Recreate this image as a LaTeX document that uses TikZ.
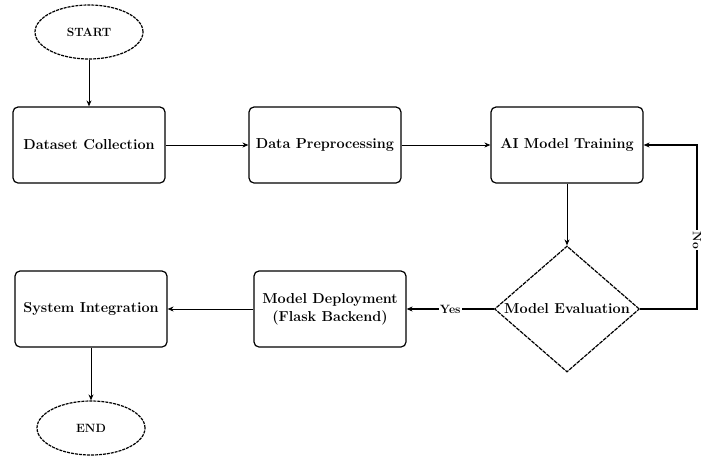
\documentclass[tikz,border=0pt]{standalone}
\usetikzlibrary{shapes.geometric,arrows.meta}
\begin{document}
\begin{tikzpicture}[x=1pt,y=-1pt,
  proc/.style={draw, line width=1.2pt, rounded corners=5pt, minimum width=152pt, minimum height=76pt, inner sep=2pt, font=\bfseries\Large, align=center},
  term/.style={draw, ellipse, line width=1.2pt, dashed, dash pattern=on 3pt off 1pt, minimum width=108pt, minimum height=54pt, font=\bfseries\large},
  dec/.style={draw, diamond, line width=1.2pt, dashed, dash pattern=on 4pt off 1pt, minimum width=145pt, minimum height=126pt, inner sep=0pt},
  dectext/.style={font=\bfseries\Large, inner sep=0pt},
  conn/.style={draw, line width=0.9pt, -{Stealth[length=6pt,width=5pt]}},
  lbl/.style={font=\bfseries\large, fill=white, inner sep=1pt}]
\useasboundingbox (0,0) rectangle (704,456);
\node[term] (start) at (89,32) {START};
\node[proc] (data) at (89,145) {Dataset Collection};
\node[proc] (prep) at (325,145) {Data Preprocessing};
\node[proc] (train) at (567,145) {AI Model Training};
\node[dec] (eval) at (567,309) {};
\node[dectext] (evaltext) at (eval.center) {Model Evaluation};
\node[proc] (deploy) at (330,309) {Model Deployment\\(Flask Backend)};
\node[proc] (integ) at (91,309) {System Integration};
\node[term] (end) at (91,428) {END};
\coordinate (c1) at (697,309);
\coordinate (c2) at (697,145);
\draw[conn] (start) -- (data);
\draw[conn] (data) -- (prep);
\draw[conn] (prep) -- (train);
\draw[conn] (train) -- (eval);
\draw[conn, line width=1.6pt] (eval) -- node[lbl] {Yes} (deploy);
\draw[conn, line width=1.6pt] (eval.east) -- (c1) -- node[lbl, rotate=-90, pos=0.42] {No} (c2) -- (train.east);
\draw[conn] (deploy) -- (integ);
\draw[conn] (integ) -- (end);
\end{tikzpicture}
\end{document}
